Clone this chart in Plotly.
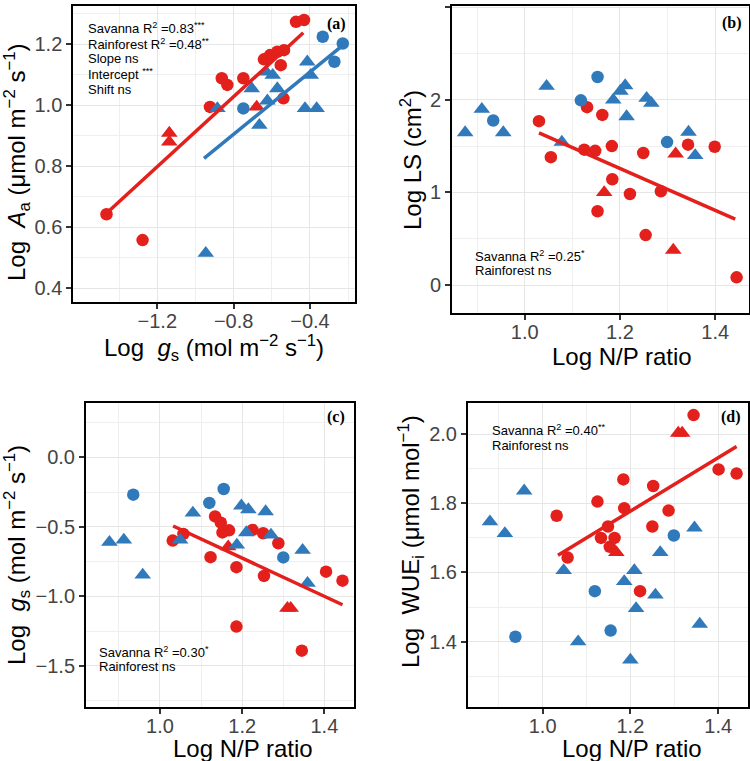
import plotly.graph_objects as go

W, H = 750, 761
RED = "#E3201C"
BLUE = "#3079BA"

# ---------------- Panel (a): Log gs vs Log Aa ----------------
a_sav_c_x = [-1.466, -1.277, -0.924, -0.862, -0.833, -0.749, -0.641, -0.609, -0.571, -0.536, -0.553, -0.539, -0.473, -0.431]
a_sav_c_y = [0.643, 0.558, 0.995, 1.089, 1.067, 1.089, 1.151, 1.165, 1.176, 1.181, 1.132, 1.023, 1.274, 1.280]
a_sav_t_x = [-1.137, -1.137, -0.679]
a_sav_t_y = [0.909, 0.880, 0.995]
a_rf_c_x = [-0.749, -0.333, -0.228, -0.272]
a_rf_c_y = [0.990, 1.225, 1.203, 1.143]
a_rf_t_x = [-0.946, -0.885, -0.705, -0.665, -0.630, -0.623, -0.595, -0.571, -0.414, -0.396, -0.426, -0.365]
a_rf_t_y = [0.515, 0.990, 1.055, 0.935, 1.110, 1.015, 1.099, 1.055, 1.143, 1.099, 0.990, 0.990]
a_sav_fit_x = [-1.466, -0.435]
a_sav_fit_y = [0.646, 1.238]
a_rf_fit_x = [-0.955, -0.230]
a_rf_fit_y = [0.826, 1.196]

# ---------------- Panel (b): Log N/P vs Log LS ----------------
b_sav_c_x = [1.030, 1.055, 1.131, 1.163, 1.125, 1.148, 1.183, 1.184, 1.153, 1.221, 1.249, 1.254, 1.286, 1.343, 1.399, 1.445]
b_sav_c_y = [1.770, 1.381, 1.921, 1.838, 1.462, 1.450, 1.501, 1.143, 0.797, 0.983, 1.426, 0.540, 1.013, 1.516, 1.494, 0.083]
b_sav_t_x = [1.167, 1.317, 1.312]
b_sav_t_y = [1.000, 1.418, 0.378]
b_rf_c_x = [0.934, 1.118, 1.153, 1.299]
b_rf_c_y = [1.777, 1.995, 2.247, 1.544]
b_rf_t_x = [0.875, 0.910, 0.955, 1.046, 1.078, 1.186, 1.201, 1.211, 1.214, 1.256, 1.266, 1.344, 1.358]
b_rf_t_y = [1.647, 1.899, 1.647, 2.148, 1.544, 2.000, 2.095, 2.155, 1.820, 2.018, 1.964, 1.652, 1.400]
b_sav_fit_x = [1.030, 1.442]
b_sav_fit_y = [1.644, 0.713]

# ---------------- Panel (c): Log N/P vs Log gs ----------------
c_sav_c_x = [1.031, 1.057, 1.123, 1.134, 1.148, 1.152, 1.168, 1.186, 1.186, 1.225, 1.251, 1.288, 1.253, 1.345, 1.404, 1.444]
c_sav_c_y = [-0.599, -0.551, -0.718, -0.425, -0.470, -0.540, -0.525, -0.790, -1.217, -0.522, -0.546, -0.618, -0.853, -1.390, -0.822, -0.887]
c_sav_t_x = [1.166, 1.310, 1.318]
c_sav_t_y = [-0.643, -1.085, -1.085]
c_rf_c_x = [0.935, 1.120, 1.155, 1.300]
c_rf_c_y = [-0.269, -0.328, -0.228, -0.720]
c_rf_t_x = [0.877, 0.912, 0.958, 1.049, 1.080, 1.198, 1.215, 1.187, 1.210, 1.257, 1.270, 1.347, 1.359]
c_rf_t_y = [-0.610, -0.594, -0.846, -0.594, -0.400, -0.349, -0.376, -0.630, -0.541, -0.390, -0.558, -0.668, -0.905]
c_sav_fit_x = [1.032, 1.444]
c_sav_fit_y = [-0.494, -1.060]

# ---------------- Panel (d): Log N/P vs Log WUEi ----------------
d_sav_c_x = [1.032, 1.057, 1.125, 1.133, 1.149, 1.164, 1.153, 1.186, 1.184, 1.222, 1.252, 1.250, 1.287, 1.344, 1.401, 1.442]
d_sav_c_y = [1.764, 1.643, 1.805, 1.700, 1.733, 1.700, 1.674, 1.786, 1.869, 1.546, 1.850, 1.733, 1.779, 2.055, 1.898, 1.886]
d_sav_t_x = [1.168, 1.309, 1.318]
d_sav_t_y = [1.658, 2.003, 2.003]
d_rf_c_x = [0.938, 1.119, 1.155, 1.299]
d_rf_c_y = [1.414, 1.546, 1.432, 1.707]
d_rf_t_x = [0.880, 0.914, 0.958, 1.048, 1.081, 1.186, 1.209, 1.200, 1.213, 1.257, 1.268, 1.346, 1.358]
d_rf_t_y = [1.747, 1.713, 1.836, 1.606, 1.400, 1.574, 1.606, 1.347, 1.496, 1.535, 1.658, 1.729, 1.451]
d_sav_fit_x = [1.035, 1.442]
d_sav_fit_y = [1.650, 1.964]

# ---------------- Tick labels ----------------
a_xticks = [-1.2, -0.8, -0.4]
a_xtext = ["−1.2", "−0.8", "−0.4"]
a_yticks = [0.4, 0.6, 0.8, 1.0, 1.2]
a_ytext = ["0.4", "0.6", "0.8", "1.0", "1.2"]
np_xticks = [1.0, 1.2, 1.4]
np_xtext = ["1.0", "1.2", "1.4"]
b_yticks = [0, 1, 2, 3]
b_ytext = ["0", "1", "2", "3"]
c_yticks = [-1.5, -1.0, -0.5, 0.0]
c_ytext = ["−1.5", "−1.0", "−0.5", "0.0"]
d_yticks = [1.4, 1.6, 1.8, 2.0]
d_ytext = ["1.4", "1.6", "1.8", "2.0"]

FONT = "Liberation Sans, Arial, sans-serif"
SERIF = "Liberation Serif, Times New Roman, serif"

fig = go.Figure()


def pts(ax, xs, ys, color, symbol, size):
    fig.add_trace(go.Scatter(
        x=xs, y=ys, mode="markers", xaxis="x" + ax, yaxis="y" + ax,
        marker=dict(color=color, symbol=symbol, size=size, line=dict(width=0)),
        showlegend=False, hoverinfo="skip"))


def fit(ax, xs, ys, color):
    fig.add_trace(go.Scatter(
        x=xs, y=ys, mode="lines", xaxis="x" + ax, yaxis="y" + ax,
        line=dict(color=color, width=3.5), showlegend=False, hoverinfo="skip"))


CS, TS = 12.5, 14.5
# (a)
pts("", a_sav_c_x, a_sav_c_y, RED, "circle", CS)
pts("", a_sav_t_x, a_sav_t_y, RED, "triangle-up", TS)
pts("", a_rf_c_x, a_rf_c_y, BLUE, "circle", CS)
pts("", a_rf_t_x, a_rf_t_y, BLUE, "triangle-up", TS)
fit("", a_sav_fit_x, a_sav_fit_y, RED)
fit("", a_rf_fit_x, a_rf_fit_y, BLUE)
# (b)
pts("2", b_sav_c_x, b_sav_c_y, RED, "circle", CS)
pts("2", b_sav_t_x, b_sav_t_y, RED, "triangle-up", TS)
pts("2", b_rf_c_x, b_rf_c_y, BLUE, "circle", CS)
pts("2", b_rf_t_x, b_rf_t_y, BLUE, "triangle-up", TS)
fit("2", b_sav_fit_x, b_sav_fit_y, RED)
# (c)
pts("3", c_sav_c_x, c_sav_c_y, RED, "circle", CS)
pts("3", c_sav_t_x, c_sav_t_y, RED, "triangle-up", TS)
pts("3", c_rf_c_x, c_rf_c_y, BLUE, "circle", CS)
pts("3", c_rf_t_x, c_rf_t_y, BLUE, "triangle-up", TS)
fit("3", c_sav_fit_x, c_sav_fit_y, RED)
# (d)
pts("4", d_sav_c_x, d_sav_c_y, RED, "circle", CS)
pts("4", d_sav_t_x, d_sav_t_y, RED, "triangle-up", TS)
pts("4", d_rf_c_x, d_rf_c_y, BLUE, "circle", CS)
pts("4", d_rf_t_x, d_rf_t_y, BLUE, "triangle-up", TS)
fit("4", d_sav_fit_x, d_sav_fit_y, RED)


def px(x):
    return x / W


def py(y):
    return 1 - y / H


def axis(domain, rng, tickvals, ticktext, minor0, minordt, anchor, standoff=0):
    return dict(
        domain=domain, range=rng, anchor=anchor,
        tickmode="array", tickvals=tickvals, ticktext=ticktext,
        showline=True, linecolor="black", linewidth=2, mirror=True,
        ticks="outside", ticklen=5, tickwidth=1.5, tickcolor="#333333",
        ticklabelstandoff=standoff,
        showgrid=True, gridcolor="#E6E6E6", gridwidth=1, zeroline=False,
        minor=dict(tickmode="linear", tick0=minor0, dtick=minordt, showgrid=True,
                   gridcolor="#EFEFEF", gridwidth=0.8, ticks=""),
        tickfont=dict(family=FONT, size=20, color="#444444"),
        automargin=False, fixedrange=True,
    )


XS = -5
fig.update_layout(
    width=W, height=H, margin=dict(l=0, r=0, t=0, b=0),
    plot_bgcolor="white", paper_bgcolor="white", showlegend=False,
    xaxis=axis([px(73.3), px(355)], [-1.64, -0.164], a_xticks, a_xtext, -1.4, 0.4, "y", XS),
    yaxis=axis([py(301.7), py(6)], [0.356, 1.326], a_yticks, a_ytext, 0.3, 0.2, "x"),
    xaxis2=axis([px(452), px(749)], [0.8474, 1.471], np_xticks, np_xtext, 0.9, 0.2, "y2", XS),
    yaxis2=axis([py(313), py(6)], [-0.302, 3.014], b_yticks, b_ytext, -0.5, 1.0, "x2"),
    xaxis3=axis([px(86), px(354)], [0.82, 1.472], np_xticks, np_xtext, 0.9, 0.2, "y3", XS),
    yaxis3=axis([py(707), py(403)], [-1.795, 0.39], c_yticks, c_ytext, -1.75, 0.5, "x3"),
    xaxis4=axis([px(468), px(748)], [0.83, 1.468], np_xticks, np_xtext, 0.9, 0.2, "y4", XS),
    yaxis4=axis([py(707), py(403)], [1.211, 2.09], d_yticks, d_ytext, 1.3, 0.2, "x4"),
)

ann = []


def note(x, y, text, size=13, xanchor="left", family=FONT, angle=0, color="black"):
    ann.append(dict(x=px(x), y=py(y), xref="paper", yref="paper", text=text,
                    showarrow=False, xanchor=xanchor, yanchor="middle", textangle=angle,
                    font=dict(family=family, size=size, color=color)))


# statistics text
for i, t in enumerate(["Savanna R<sup>2</sup> =0.83<sup>***</sup>", "Rainforest R<sup>2</sup> =0.48<sup>**</sup>",
                       "Slope ns", "Intercept <sup>***</sup>", "Shift ns"]):
    note(86, 28.3 + i * 15.25, t)
note(473, 256, "Savanna R<sup>2</sup> =0.25<sup>*</sup>")
note(473, 270.5, "Rainforest ns")
note(97, 651.7, "Savanna R<sup>2</sup> =0.30<sup>*</sup>")
note(97, 666.7, "Rainforest ns")
note(490, 430, "Savanna R<sup>2</sup> =0.40<sup>**</sup>")
note(490, 445, "Rainforest ns")

# panel labels
note(336.7, 24, "<b>(a)</b>", size=16, xanchor="center", family=SERIF)
note(731.7, 22.7, "<b>(b)</b>", size=16, xanchor="center", family=SERIF)
note(336, 417.3, "<b>(c)</b>", size=16, xanchor="center", family=SERIF)
note(731, 417.3, "<b>(d)</b>", size=16, xanchor="center", family=SERIF)

# axis titles
note(17, 162, "Log  <i>A</i><sub>a</sub> (μmol m<sup>−2</sup> s<sup>−1</sup>)", size=24, xanchor="center", angle=-90)
note(214, 348, "Log  <i>g</i><sub>s</sub> (mol m<sup>−2</sup> s<sup>−1</sup>)", size=24, xanchor="center")
note(411, 160, "Log LS (cm<sup>2</sup>)", size=24, xanchor="center", angle=-90)
note(622, 356, "Log N/P ratio", size=24, xanchor="center")
note(17, 555, "Log  <i>g</i><sub>s</sub> (mol m<sup>−2</sup> s<sup>−1</sup>)", size=24, xanchor="center", angle=-90)
note(243, 748, "Log N/P ratio", size=24, xanchor="center")
note(411, 542, "Log  WUE<sub>i</sub> (μmol mol<sup>−1</sup>)", size=24, xanchor="center", angle=-90)
note(632, 748, "Log N/P ratio", size=24, xanchor="center")

fig.update_layout(annotations=ann)

fig.write_html(
    "out.html",
    config={"displayModeBar": False},
    post_script="document.body.style.margin='0px';document.body.style.overflow='hidden';",
)
